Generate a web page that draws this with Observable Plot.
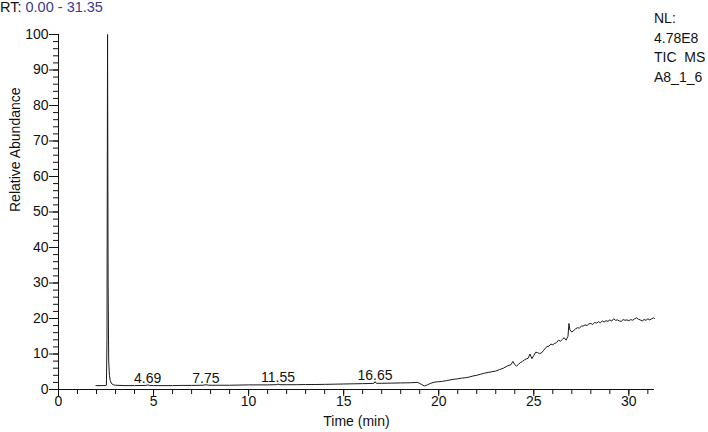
<!DOCTYPE html>
<html><head><meta charset="utf-8">
<script src="https://cdn.jsdelivr.net/npm/d3@7"></script>
<script src="https://cdn.jsdelivr.net/npm/@observablehq/plot@0.6"></script>
<style>
body{margin:0;background:#fff;font-family:"Liberation Sans",Arial,sans-serif;}
#wrap{position:relative;width:708px;height:432px;overflow:hidden;}
#wrap svg{position:absolute;left:0;top:0;overflow:visible;}
#wrap svg text{font-size:14px;}
.rt{position:absolute;left:0;top:-2px;font-size:14.5px;line-height:18px;color:#111;white-space:pre;}
.rt span{color:#3a3a8c;}
.nl{position:absolute;left:654px;top:9px;font-size:14px;line-height:19.5px;color:#111;white-space:pre;}
</style></head>
<body>
<div id="wrap">
  <div class="rt">RT: <span>0.00 - 31.35</span></div>
  <div class="nl">NL:
4.78E8
TIC  MS
A8_1_6</div>
</div>
<script>
const times = [1.97,2.45,2.52,2.55,2.58,2.61,2.64,2.68,2.72,2.8,2.9,3.0,3.5,4.0,4.6,4.69,4.8,5.0,5.5,6.0,6.5,7.0,7.6,7.75,7.9,8.5,9.0,9.5,10.0,10.5,11.0,11.45,11.55,11.65,12.0,12.5,13.0,13.5,14.0,14.5,15.0,15.5,16.0,16.5,16.6,16.65,16.72,17.0,17.5,18.0,18.5,18.9,19.1,19.25,19.4,19.6,19.8,20.0,20.2,20.4,20.6,20.8,21.0,21.2,21.4,21.6,21.8,22.0,22.2,22.4,22.6,22.8,23.0,23.2,23.4,23.6,23.8,23.9,24.0,24.1,24.2,24.3,24.4,24.5,24.6,24.7,24.8,24.9,25.0,25.1,25.2,25.3,25.4,25.5,25.6,25.7,25.8,25.9,26.0,26.1,26.2,26.3,26.4,26.5,26.6,26.7,26.8,26.85,26.9,27.0,27.1,27.2,27.3,27.4,27.5,27.6,27.7,27.8,27.9,28.0,28.1,28.2,28.3,28.4,28.5,28.6,28.7,28.8,28.9,29.0,29.1,29.2,29.3,29.4,29.5,29.6,29.7,29.8,29.9,30.0,30.1,30.2,30.3,30.4,30.5,30.6,30.7,30.8,30.9,31.0,31.1,31.2,31.3,31.35];
const abundance = [1.1,1.1,1.2,14,100,30,8,4,2.5,1.6,1.3,1.2,1.1,1.1,1.15,1.3,1.15,1.1,1.1,1.1,1.15,1.15,1.2,1.35,1.2,1.2,1.2,1.25,1.3,1.3,1.3,1.35,1.5,1.35,1.35,1.35,1.4,1.4,1.45,1.5,1.55,1.6,1.65,1.7,1.8,2.2,1.75,1.75,1.8,1.85,1.9,2.0,1.4,1.0,1.3,1.8,2.1,2.2,2.3,2.5,2.7,2.9,3.0,3.2,3.3,3.5,3.8,4.0,4.3,4.6,4.8,5.0,5.2,5.6,6.0,6.6,7.0,7.9,7.0,6.6,7.1,7.6,7.9,8.3,8.6,8.8,10.0,8.7,9.6,10.5,10.4,10.1,10.3,10.9,11.6,12.1,12.2,12.8,12.6,13.0,13.2,13.9,13.6,14.1,14.6,13.9,15.0,18.6,16.8,16.2,16.6,17.1,17.4,17.3,17.8,17.9,18.2,18.0,18.5,18.6,18.3,18.9,18.7,19.1,18.8,19.3,19.0,19.4,19.2,19.6,19.3,19.9,19.5,19.6,19.3,19.2,19.7,19.5,19.6,19.4,19.7,19.5,19.9,20.2,19.8,19.6,19.3,19.7,19.5,19.9,19.6,19.9,20.2,20.0];
const peakTimes = [4.69, 7.75, 11.55, 16.65];
const peakValues = [1.3, 1.35, 1.5, 2.2];
const peakLabels = ["4.69", "7.75", "11.55", "16.65"];
const xMajorTicks = [0, 5, 10, 15, 20, 25, 30];
const xMinorTicks = d3.range(0, 32, 1);
const yMajorTicks = [0, 10, 20, 30, 40, 50, 60, 70, 80, 90, 100];
const yMinorTicks = d3.range(0, 101, 2);

const trace = times.map((t, i) => ({t, v: abundance[i]}));
const peaks = peakTimes.map((t, i) => ({t, v: peakValues[i], label: peakLabels[i]}));

const chart = Plot.plot({
  width: 708, height: 432,
  marginLeft: 58, marginRight: 54, marginTop: 34, marginBottom: 43,
  style: {fontFamily: '"Liberation Sans", Arial, sans-serif', fontSize: "14px", color: "#111", background: "transparent"},
  x: {domain: [0, 31.35]},
  y: {domain: [0, 100]},
  marks: [
    Plot.axisY(yMinorTicks, {tickSize: 5, tickFormat: () => "", label: null}),
    Plot.axisY(yMajorTicks, {tickSize: 9, tickPadding: 1, label: null, fontSize: 14}),
    Plot.axisX(xMinorTicks, {tickSize: 5, tickFormat: () => "", label: null}),
    Plot.axisX(xMajorTicks, {tickSize: 7, tickPadding: 0, label: null, fontSize: 14}),
    Plot.ruleX([0], {y1: 0, y2: 100, stroke: "#111"}),
    Plot.ruleY([0], {x1: 0, x2: 31.35, stroke: "#111"}),
    Plot.line(trace, {x: "t", y: "v", stroke: "#1a1a1a", strokeWidth: 1}),
    Plot.text(peaks, {x: "t", y: "v", text: "label", lineAnchor: "bottom", dy: -2, fontSize: 14, fill: "#111"}),
    Plot.text(["Relative Abundance"], {frameAnchor: "left", rotate: -90, dx: -43, fontSize: 14, fill: "#111"}),
    Plot.text(["Time (min)"], {frameAnchor: "bottom", dx: 0, dy: 36, fontSize: 14, fill: "#111"})
  ]
});
document.getElementById("wrap").prepend(chart);
</script>
</body></html>
